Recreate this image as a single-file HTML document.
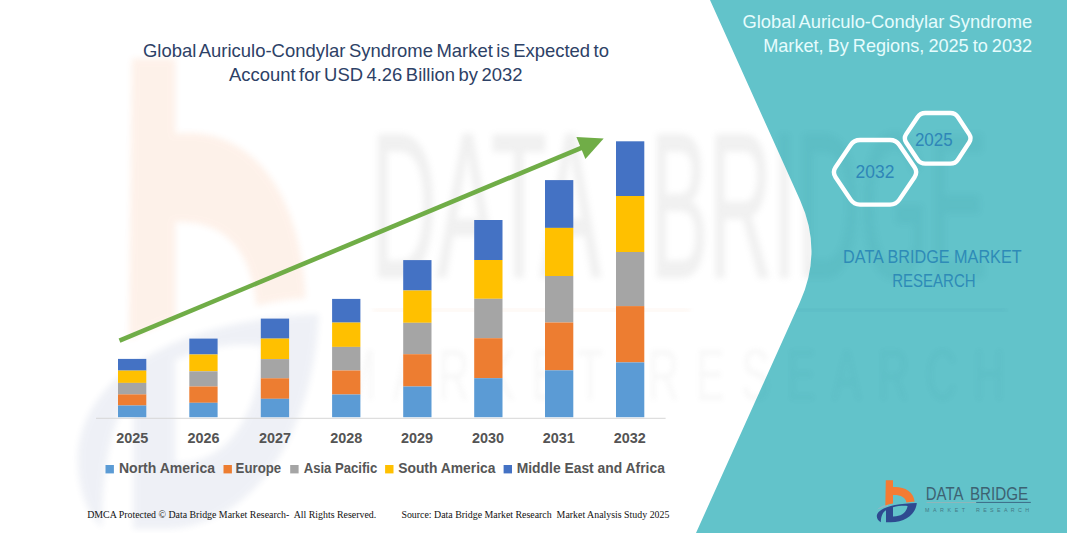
<!DOCTYPE html>
<html><head><meta charset="utf-8"><title>Global Auriculo-Condylar Syndrome Market</title>
<style>
html,body{margin:0;padding:0;background:#fff;}
body{width:1067px;height:533px;overflow:hidden;font-family:"Liberation Sans",sans-serif;}
svg{display:block;}
text{font-family:"Liberation Sans",sans-serif;}
.serif{font-family:"Liberation Serif",serif;}
</style></head><body>
<svg width="1067" height="533" viewBox="0 0 1067 533">
<defs>
<filter id="blur3" x="-20%" y="-20%" width="140%" height="140%"><feGaussianBlur stdDeviation="3"/></filter>
<filter id="blur2" x="-20%" y="-20%" width="140%" height="140%"><feGaussianBlur stdDeviation="2.4"/></filter>
<clipPath id="tealclip"><path d="M710,0 L800,200 Q823,251 800,302 L696,533 L1067,533 L1067,0 Z"/></clipPath>
<clipPath id="whiteclip"><path d="M0,0 L710,0 L800,200 Q823,251 800,302 L696,533 L0,533 Z"/></clipPath>
<path id="markO" d="M885.8,480.3 L893,480.3 L893,487 C904,486.3 913.6,491 914.6,501.7 C911.5,501.8 909,502 906.4,502.4 C905.6,497.3 901,494.7 893,494.9 L893,503.6 C890.5,504 888,504.6 885.3,505.4 Z" fill="#F47B33"/>
<path id="markB" fill-rule="evenodd" d="M876.8,516.2 C876.8,509 892,503.6 916.8,503.1 C915.8,514.5 905,522.6 890,522.3 L886,522.3 L886,510.2 C883,512 881,515.5 880.8,522.2 C878.3,520.8 876.9,518.8 876.8,516.2 Z M893,507.2 C898,506 903.5,505.6 907.6,506 C906.6,512.6 901,516.6 893,516.4 Z" fill="#2E4A90"/>
<g id="wmtext"><text x="371" y="277" font-size="206" textLength="230" lengthAdjust="spacingAndGlyphs">DATA</text><text x="650" y="277" font-size="206" textLength="337" lengthAdjust="spacingAndGlyphs">BRIDGE</text></g>
<text id="wmtext2" transform="translate(340,400) scale(0.6,1)" x="0" y="0" font-size="72" textLength="1108" lengthAdjust="spacing">MARKET RESEARCH</text>
<mask id="thin" maskUnits="userSpaceOnUse" x="0" y="0" width="1067" height="533"><use href="#wmtext" fill="#fff" stroke="#000" stroke-width="4.5"/></mask>
</defs>
<rect width="1067" height="533" fill="#ffffff"/>

<!-- WATERMARK-LEFT -->
<g clip-path="url(#whiteclip)">
<g filter="url(#blur3)" opacity="0.10">
<g transform="translate(132,58.6) scale(6.03,11.2) translate(-885.8,-480.3)"><use href="#markO"/></g>
</g>
<g filter="url(#blur3)" opacity="0.075">
<g transform="translate(132,58.6) scale(6.03,11.2) translate(-885.8,-480.3)"><use href="#markB"/></g>
</g>
<g filter="url(#blur3)" opacity="0.12"><g fill="#8a8a8a" stroke="#8a8a8a" stroke-width="2">
<use href="#wmtext"/>
</g></g>
<g filter="url(#blur2)" fill="#8a8a8a" opacity="0.06">
<use href="#wmtext2"/>
</g>
<rect x="373" y="309" width="317" height="2.5" fill="#F4B183" opacity="0.18" filter="url(#blur2)"/>
</g>

<!-- TEAL -->
<path d="M710,0 L800,200 Q823,251 800,302 L696,533 L1067,533 L1067,0 Z" fill="#62C3CA"/>
<g clip-path="url(#tealclip)">
<g filter="url(#blur3)" opacity="0.085"><g fill="#2d8a94" stroke="#2d8a94" stroke-width="2">
<use href="#wmtext"/>
</g></g>
<g filter="url(#blur2)" fill="#2d8a94" opacity="0.05">
<use href="#wmtext2"/>
</g>
<rect x="690" y="309" width="316" height="2.5" fill="#2d6a94" opacity="0.12" filter="url(#blur2)"/>
</g>

<!-- AXIS -->
<rect x="96" y="417.8" width="569.6" height="1" fill="#D6D6D6"/>
<!-- BARS -->
<rect x="118.0" y="358.9" width="28.3" height="11.7" fill="#4472C4"/>
<rect x="118.0" y="370.6" width="28.3" height="12.3" fill="#FFC000"/>
<rect x="118.0" y="382.9" width="28.3" height="11.5" fill="#A5A5A5"/>
<rect x="118.0" y="394.4" width="28.3" height="11.1" fill="#ED7D31"/>
<rect x="118.0" y="405.5" width="28.3" height="11.7" fill="#5B9BD5"/>
<rect x="189.3" y="338.6" width="28.3" height="15.9" fill="#4472C4"/>
<rect x="189.3" y="354.5" width="28.3" height="16.8" fill="#FFC000"/>
<rect x="189.3" y="371.3" width="28.3" height="15.2" fill="#A5A5A5"/>
<rect x="189.3" y="386.5" width="28.3" height="16.3" fill="#ED7D31"/>
<rect x="189.3" y="402.8" width="28.3" height="14.4" fill="#5B9BD5"/>
<rect x="260.8" y="318.6" width="28.3" height="20.0" fill="#4472C4"/>
<rect x="260.8" y="338.6" width="28.3" height="20.5" fill="#FFC000"/>
<rect x="260.8" y="359.1" width="28.3" height="19.2" fill="#A5A5A5"/>
<rect x="260.8" y="378.3" width="28.3" height="20.5" fill="#ED7D31"/>
<rect x="260.8" y="398.8" width="28.3" height="18.4" fill="#5B9BD5"/>
<rect x="332.1" y="298.9" width="28.3" height="23.7" fill="#4472C4"/>
<rect x="332.1" y="322.6" width="28.3" height="24.3" fill="#FFC000"/>
<rect x="332.1" y="346.9" width="28.3" height="23.6" fill="#A5A5A5"/>
<rect x="332.1" y="370.5" width="28.3" height="24.0" fill="#ED7D31"/>
<rect x="332.1" y="394.5" width="28.3" height="22.7" fill="#5B9BD5"/>
<rect x="403.2" y="260.1" width="28.3" height="30.4" fill="#4472C4"/>
<rect x="403.2" y="290.5" width="28.3" height="32.3" fill="#FFC000"/>
<rect x="403.2" y="322.8" width="28.3" height="31.4" fill="#A5A5A5"/>
<rect x="403.2" y="354.2" width="28.3" height="32.3" fill="#ED7D31"/>
<rect x="403.2" y="386.5" width="28.3" height="30.7" fill="#5B9BD5"/>
<rect x="474.2" y="220.0" width="28.3" height="40.0" fill="#4472C4"/>
<rect x="474.2" y="260.0" width="28.3" height="38.8" fill="#FFC000"/>
<rect x="474.2" y="298.8" width="28.3" height="39.4" fill="#A5A5A5"/>
<rect x="474.2" y="338.2" width="28.3" height="40.0" fill="#ED7D31"/>
<rect x="474.2" y="378.2" width="28.3" height="39.0" fill="#5B9BD5"/>
<rect x="545.0" y="180.1" width="28.3" height="47.8" fill="#4472C4"/>
<rect x="545.0" y="227.9" width="28.3" height="48.1" fill="#FFC000"/>
<rect x="545.0" y="276.0" width="28.3" height="46.5" fill="#A5A5A5"/>
<rect x="545.0" y="322.5" width="28.3" height="47.8" fill="#ED7D31"/>
<rect x="545.0" y="370.3" width="28.3" height="46.9" fill="#5B9BD5"/>
<rect x="616.0" y="141.3" width="28.3" height="54.7" fill="#4472C4"/>
<rect x="616.0" y="196.0" width="28.3" height="56.0" fill="#FFC000"/>
<rect x="616.0" y="252.0" width="28.3" height="54.1" fill="#A5A5A5"/>
<rect x="616.0" y="306.1" width="28.3" height="56.3" fill="#ED7D31"/>
<rect x="616.0" y="362.4" width="28.3" height="54.8" fill="#5B9BD5"/>
<!-- ARROW -->
<line x1="119.5" y1="340.6" x2="585" y2="146.3" stroke="#70AD47" stroke-width="4.6"/>
<polygon points="603.7,138.4 576.4,137 585.4,159" fill="#70AD47"/>

<!-- YEAR LABELS -->
<g font-size="14" font-weight="bold" fill="#545454">
<text x="132.2" y="443.2" text-anchor="middle" textLength="32" lengthAdjust="spacingAndGlyphs">2025</text>
<text x="203.5" y="443.2" text-anchor="middle" textLength="32" lengthAdjust="spacingAndGlyphs">2026</text>
<text x="275" y="443.2" text-anchor="middle" textLength="32" lengthAdjust="spacingAndGlyphs">2027</text>
<text x="346.2" y="443.2" text-anchor="middle" textLength="32" lengthAdjust="spacingAndGlyphs">2028</text>
<text x="417" y="443.2" text-anchor="middle" textLength="32" lengthAdjust="spacingAndGlyphs">2029</text>
<text x="488" y="443.2" text-anchor="middle" textLength="32" lengthAdjust="spacingAndGlyphs">2030</text>
<text x="558.8" y="443.2" text-anchor="middle" textLength="32" lengthAdjust="spacingAndGlyphs">2031</text>
<text x="629.7" y="443.2" text-anchor="middle" textLength="32" lengthAdjust="spacingAndGlyphs">2032</text>
</g>

<!-- LEGEND -->
<g font-size="14.2" font-weight="bold" fill="#565656">
<rect x="105.5" y="465" width="8.4" height="8.4" fill="#5B9BD5"/>
<text x="119" y="472.9" textLength="96" lengthAdjust="spacingAndGlyphs">North America</text>
<rect x="223.5" y="465" width="8.4" height="8.4" fill="#ED7D31"/>
<text x="235.6" y="472.9" textLength="45.6" lengthAdjust="spacingAndGlyphs">Europe</text>
<rect x="290.2" y="465" width="8.4" height="8.4" fill="#A5A5A5"/>
<text x="303.7" y="472.9" textLength="73.6" lengthAdjust="spacingAndGlyphs">Asia Pacific</text>
<rect x="385.1" y="465" width="8.4" height="8.4" fill="#FFC000"/>
<text x="398.2" y="472.9" textLength="97.3" lengthAdjust="spacingAndGlyphs">South America</text>
<rect x="503.6" y="465" width="8.4" height="8.4" fill="#4472C4"/>
<text x="516.7" y="472.9" textLength="148.2" lengthAdjust="spacingAndGlyphs">Middle East and Africa</text>
</g>

<!-- TITLE LEFT -->
<g font-size="18.4" fill="#2D4166" word-spacing="-1.6">
<text x="143" y="56.5" textLength="466" lengthAdjust="spacingAndGlyphs">Global Auriculo-Condylar Syndrome Market is Expected to</text>
<text x="229" y="80.8" textLength="293.5" lengthAdjust="spacingAndGlyphs">Account for USD 4.26 Billion by 2032</text>
</g>

<!-- TITLE RIGHT -->
<g font-size="17.8" fill="#E6FCFD" word-spacing="-1">
<text x="742.4" y="28.1" textLength="289.8" lengthAdjust="spacingAndGlyphs">Global Auriculo-Condylar Syndrome</text>
<text x="763.2" y="51.9" textLength="269" lengthAdjust="spacingAndGlyphs">Market, By Regions, 2025 to 2032</text>
</g>

<!-- HEXAGONS -->
<g fill="none" stroke="#ffffff" stroke-width="4.4" stroke-linejoin="round">
<path d="M906.18,142.46 Q903.40,138.30 906.18,134.14 L917.52,117.16 Q920.30,113.00 925.30,113.00 L950.30,113.00 Q955.30,113.00 958.04,117.18 L969.16,134.12 Q971.90,138.30 969.16,142.48 L958.04,159.42 Q955.30,163.60 950.30,163.60 L925.30,163.60 Q920.30,163.60 917.52,159.44 Z"/>
<path d="M835.56,177.27 Q832.20,172.30 835.56,167.33 L850.64,144.97 Q854.00,140.00 860.00,140.00 L890.00,140.00 Q896.00,140.00 899.37,144.97 L914.53,167.33 Q917.90,172.30 914.53,177.27 L899.37,199.63 Q896.00,204.60 890.00,204.60 L860.00,204.60 Q854.00,204.60 850.64,199.63 Z"/>
</g>
<g font-size="18.6" fill="#2E86B8">
<text x="914.9" y="146" textLength="37.8" lengthAdjust="spacingAndGlyphs">2025</text>
<text x="855.6" y="177.7" textLength="38.8" lengthAdjust="spacingAndGlyphs">2032</text>
</g>

<!-- DBMR TEXT -->
<g font-size="17.8" fill="#2E8BB7">
<text x="843.1" y="263" textLength="178.5" lengthAdjust="spacingAndGlyphs">DATA BRIDGE MARKET</text>
<text x="892.2" y="287.2" textLength="83.4" lengthAdjust="spacingAndGlyphs">RESEARCH</text>
</g>

<!-- LOGO -->
<g>
<path d="M877,509.5 C880,506.5 884,505 888,504.2 L888,506 C884,507 880,508.5 877,509.5 Z" fill="#9fb4c4" opacity="0.7"/>
<path d="M885.8,480.3 L893,480.3 L893,487 C904,486.3 913.6,491 914.6,501.7 C911.5,501.8 909,502 906.4,502.4 C905.6,497.3 901,494.7 893,494.9 L893,503.6 C890.5,504 888,504.6 885.3,505.4 Z" fill="#F47B33"/>
<path fill-rule="evenodd" d="M876.8,516.2 C876.8,509 892,503.6 916.8,503.1 C915.8,514.5 905,522.6 890,522.3 L886,522.3 L886,510.2 C883,512 881,515.5 880.8,522.2 C878.3,520.8 876.9,518.8 876.8,516.2 Z M893,507.2 C898,506 903.5,505.6 907.6,506 C906.6,512.6 901,516.6 893,516.4 Z" fill="#2E4A90"/>
</g>
<g fill="#3D6272" font-size="18.4">
<text x="925.8" y="499.6" textLength="37.6" lengthAdjust="spacingAndGlyphs">DATA</text>
<text x="969.9" y="499.6" textLength="58.2" lengthAdjust="spacingAndGlyphs">BRIDGE</text>
</g>
<rect x="926.5" y="502" width="49.7" height="0.8" fill="#9BB3B6"/>
<rect x="976.2" y="501.9" width="54.6" height="1" fill="#3C6A86"/>
<g fill="#447986" font-size="5.3">
<text x="925" y="511.5" textLength="40" lengthAdjust="spacing">MARKET</text>
<text x="976" y="511.5" textLength="53" lengthAdjust="spacing">RESEARCH</text>
</g>

<!-- FOOTER -->
<g class="serif" font-size="10.1" fill="#111111">
<text class="serif" x="87.2" y="517.8" textLength="289" lengthAdjust="spacingAndGlyphs" xml:space="preserve">DMCA Protected © Data Bridge Market Research-  All Rights Reserved.</text>
<text class="serif" x="401.4" y="517.8" textLength="268" lengthAdjust="spacingAndGlyphs" xml:space="preserve">Source: Data Bridge Market Research  Market Analysis Study 2025</text>
</g>
</svg>
</body></html>
